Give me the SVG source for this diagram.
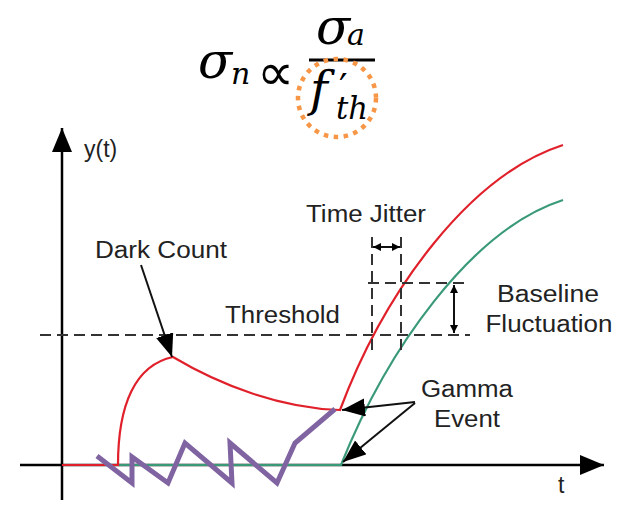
<svg xmlns="http://www.w3.org/2000/svg" width="625" height="505" viewBox="0 0 625 505">
<style>
.lbl{font-family:"Liberation Sans",Arial,sans-serif;font-size:23px;fill:#222}
.m{font-family:"DejaVu Serif","Liberation Serif",serif;font-style:italic;fill:#000}
.ax{stroke:#000;stroke-width:2.5;fill:none}
.dash{stroke:#333;stroke-width:2;stroke-dasharray:11 6;fill:none}
.arr{stroke:#111;stroke-width:2;fill:none}
</style>
<defs>
<marker id="big" markerUnits="userSpaceOnUse" markerWidth="26" markerHeight="20" refX="23" refY="9" orient="auto"><path d="M0,0 L23,9 L0,18 z" fill="#000"/></marker>
<marker id="ax" markerUnits="userSpaceOnUse" markerWidth="26" markerHeight="22" refX="24" refY="10" orient="auto"><path d="M0,0 L24,10 L0,20 z" fill="#000"/></marker>
<marker id="sm" markerUnits="userSpaceOnUse" markerWidth="10" markerHeight="10" refX="8" refY="4" orient="auto-start-reverse"><path d="M0,0 L8,4 L0,8 z" fill="#000"/></marker>
</defs>

<g id="formula">
<text class="m" x="198" y="78" font-size="50">σ</text>
<text class="m" x="231" y="84" font-size="30">n</text>
<text x="257" y="90" font-family="'DejaVu Sans',sans-serif" font-size="52" fill="#000">∝</text>
<text class="m" x="316" y="44" font-size="50">σ</text>
<text class="m" x="347" y="45" font-size="30">a</text>
<line x1="309" y1="60" x2="375" y2="60" stroke="#000" stroke-width="3"/>
<text class="m" x="310" y="106" font-size="48">f</text>
<text x="339" y="100" font-family="'DejaVu Sans',sans-serif" font-size="38" fill="#000">′</text>
<text class="m" x="336" y="119" font-size="32" textLength="32" lengthAdjust="spacingAndGlyphs">th</text>
<circle cx="337" cy="98" r="39" fill="none" stroke="#F79646" stroke-width="4.5" stroke-dasharray="4.5 5.5"/>
</g>

<g id="axes">
<line class="ax" x1="62" y1="500" x2="62" y2="128" marker-end="url(#ax)"/>
<line class="ax" x1="20" y1="465" x2="604" y2="465" marker-end="url(#ax)"/>
<text class="lbl" x="84" y="157" font-size="22">y(t)</text>
<text class="lbl" x="558" y="493" font-size="22">t</text>
</g>

<g id="threshold">
<line class="dash" x1="40" y1="335" x2="470" y2="335"/>
<text class="lbl" x="225" y="323" textLength="115" lengthAdjust="spacingAndGlyphs">Threshold</text>
</g>

<g id="signals">
<path d="M118,465 L341,465 C386,352 470,230 563,200" fill="none" stroke="#3A9A78" stroke-width="2.2"/>
<path d="M62,465 L118,465 C118,405 135,365 173,357 C220,385 280,408 340,410 C385,290 470,175 563,145" fill="none" stroke="#E0212B" stroke-width="2.2"/>
<polyline points="97,456 132,483 132,457 168,483 185,443 232,483 230,443 277,483 295,443 335,409" fill="none" stroke="#8064A2" stroke-width="5" stroke-linejoin="miter"/>
</g>

<g id="dark-count">
<text class="lbl" x="95" y="258" textLength="132" lengthAdjust="spacingAndGlyphs">Dark Count</text>
</g>

<g id="time-jitter">
<text class="lbl" x="306" y="222" textLength="120" lengthAdjust="spacingAndGlyphs">Time Jitter</text>
<line class="dash" x1="372" y1="237" x2="372" y2="350" stroke-dasharray="9 6"/>
<line class="dash" x1="401" y1="237" x2="401" y2="350" stroke-dasharray="9 6"/>
<line class="dash" x1="368" y1="283" x2="470" y2="283"/>
</g>

<g id="baseline-fluctuation">
<text class="lbl" x="548" y="302" text-anchor="middle" textLength="102" lengthAdjust="spacingAndGlyphs">Baseline</text>
<text class="lbl" x="549" y="332" text-anchor="middle" textLength="127" lengthAdjust="spacingAndGlyphs">Fluctuation</text>
</g>

<g id="gamma-event">
<text class="lbl" x="467" y="397" text-anchor="middle" textLength="92" lengthAdjust="spacingAndGlyphs">Gamma</text>
<text class="lbl" x="467" y="427" text-anchor="middle" textLength="66" lengthAdjust="spacingAndGlyphs">Event</text>
</g>

<g id="connectors">
<line class="arr" x1="141" y1="265" x2="172" y2="357" marker-end="url(#big)"/>
<line class="arr" x1="373" y1="247" x2="400" y2="247" marker-start="url(#sm)" marker-end="url(#sm)"/>
<line class="arr" x1="454" y1="285" x2="454" y2="333" marker-start="url(#sm)" marker-end="url(#sm)"/>
<line class="arr" x1="415" y1="402" x2="342" y2="410" marker-end="url(#big)"/>
<line class="arr" x1="415" y1="403" x2="343" y2="462" marker-end="url(#big)"/>
</g>
</svg>
